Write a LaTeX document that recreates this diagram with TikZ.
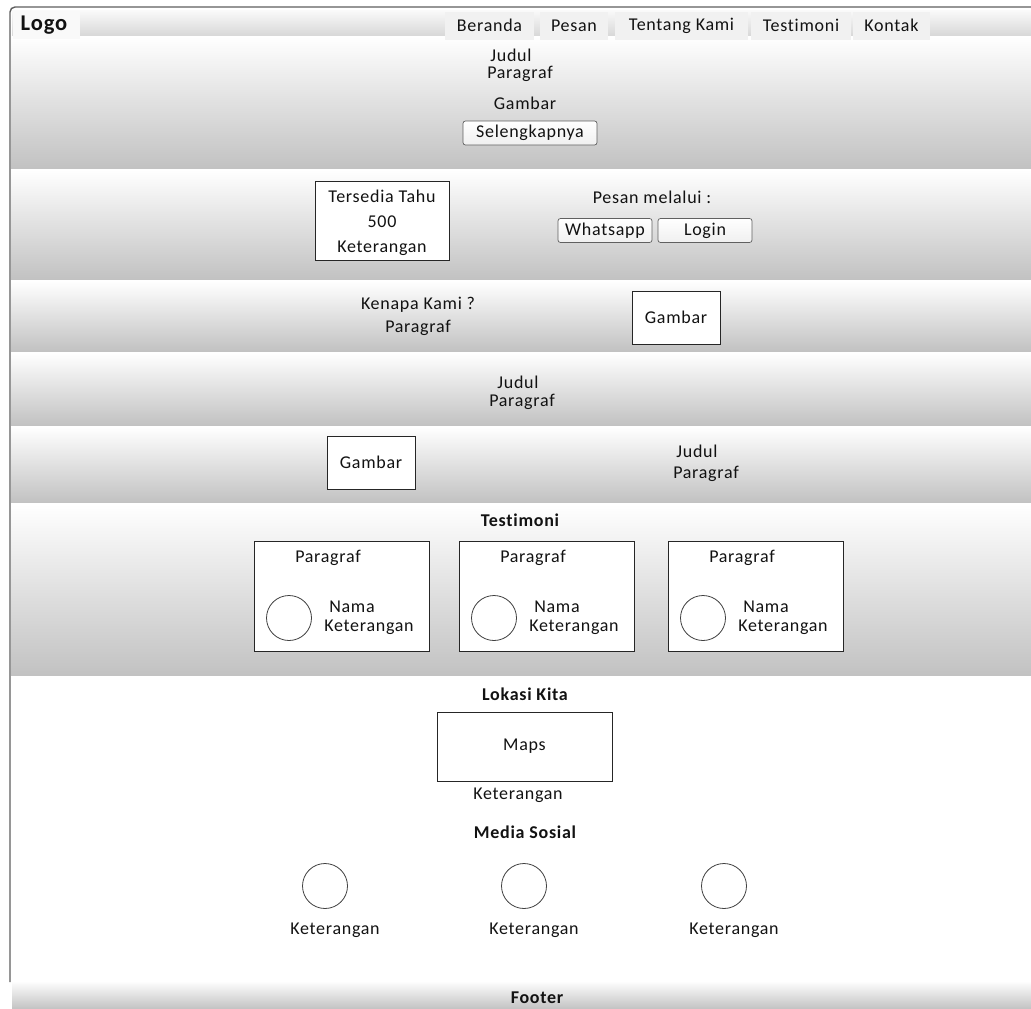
\documentclass[tikz,border=0pt]{standalone}
\usepackage{fontspec}
\setmainfont{Carlito}[LetterSpace=4, Ligatures=NoCommon]
\definecolor{bandgray}{HTML}{C2C2C2}
\definecolor{framegray}{HTML}{5E5E5E}
\definecolor{tabfill}{HTML}{F1F1F1}
\definecolor{ink}{HTML}{121212}
\newcommand\uisize{\fontsize{18}{20}\selectfont}
\newcommand\logosize{\fontsize{22.5}{26}\selectfont\bfseries}
\begin{document}
\begin{tikzpicture}[x=1pt,y=-1pt,
  every node/.style={inner sep=0pt, text=ink, font=\uisize},
  head/.style={font=\uisize\bfseries},
  panel/.style={draw=black!85, fill=white, line width=0.9pt},
  pill/.style={draw=gray!75!black, line width=0.7pt, rounded corners=2.5pt,
    top color=white, bottom color=gray!12},
  tab/.style={fill=tabfill},
  icon/.style={draw=black!75, line width=0.8pt, circle, minimum size=45pt},
  band/.style={top color=white, bottom color=bandgray},
]
\useasboundingbox (0,0) rectangle (1031,1009);

% page sections, each with a white-to-grey gradient
\foreach \a/\b in {36/168, 170/279, 281/351, 353/425, 427/502, 504/675}
  \shade[band] (11,\a) rectangle (1031,\b);
\shade[band] (12,981) rectangle (1031,1009);

% navigation bar
\shade[top color=gray!4, bottom color=gray!30] (12,10) rectangle (1031,35);
\node[tab, fill=gray!5, minimum width=67pt, minimum height=28pt] (logo) at (46.5,24.5) {};
\node[font=\logosize] (logoText) at (44,25) {Logo};
\node[tab, minimum width=89pt, minimum height=28pt] (beranda) at (489.5,25.5) {Beranda};
\node[tab, minimum width=68pt, minimum height=28pt] (pesan) at (574,25.5) {Pesan};
\node[tab, minimum width=133pt, minimum height=28pt] (tentang) at (681.5,25.5) {Tentang Kami};
\node[tab, minimum width=100pt, minimum height=28pt] (testi) at (801,25.5) {Testimoni};
\node[tab, minimum width=77pt, minimum height=28pt] (kontak) at (891.5,25.5) {Kontak};

% page frame
\draw[framegray, line width=1.4pt, rounded corners=5pt] (10,982) |- (1031,7);

% hero
\node (heroJudul) at (511,55) {Judul};
\node (heroPara) at (520,74) {Paragraf};
\node (heroImg) at (525,103) {Gambar};
\node[pill, minimum width=134pt, minimum height=24pt] (more) at (530,133) {Selengkapnya};

% availability and ordering
\node[panel, minimum width=134pt, minimum height=79pt] (stat) at (382,220.5) {};
\node[align=center, font=\fontsize{18}{25}\selectfont] (statText) at (382,223)
  {Tersedia Tahu\\500\\Keterangan};
\node (orderVia) at (652,197) {Pesan melalui :};
\node[pill, minimum width=94pt, minimum height=24pt] (wa) at (605,230.5) {Whatsapp};
\node[pill, minimum width=94pt, minimum height=24pt] (login) at (705,230.5) {Login};

% why us
\node (why) at (418,305) {Kenapa Kami ?};
\node (whyPara) at (418,328) {Paragraf};
\node[panel, minimum width=88pt, minimum height=53pt] (whyImg) at (676,317.5) {Gambar};

% plain info strip
\node (infoJudul) at (518,382) {Judul};
\node (infoPara) at (522,402) {Paragraf};

% picture with text
\node[panel, minimum width=88pt, minimum height=53pt] (featImg) at (371,462.5) {Gambar};
\node (featJudul) at (697,451) {Judul};
\node (featPara) at (706,474) {Paragraf};

% testimonials
\node[head] (testiHead) at (520,520) {Testimoni};
\foreach \i/\L in {1/254, 2/459, 3/668} {
  \node[panel, minimum width=175pt, minimum height=110pt] (card\i) at (\L+87.5,596.5) {};
  \node (cardPara\i) at (\L+74,558) {Paragraf};
  \node[icon] (avatar\i) at (\L+35,618) {};
  \node (cardName\i) at (\L+98,607) {Nama};
  \node (cardNote\i) at (\L+115,627) {Keterangan};
}

% location
\node[head] (locHead) at (525,694) {Lokasi Kita};
\node[panel, minimum width=175pt, minimum height=69pt] (maps) at (524.5,746.5) {Maps};
\node (mapsNote) at (518,795) {Keterangan};

% social media
\node[head] (socHead) at (525,832) {Media Sosial};
\foreach \i/\X in {1/325, 2/524, 3/724} {
  \node[icon] (soc\i) at (\X,886) {};
  \node (socNote\i) at (\X+10,930) {Keterangan};
}

% footer
\node[head] (footer) at (537,998) {Footer};
\end{tikzpicture}
\end{document}
